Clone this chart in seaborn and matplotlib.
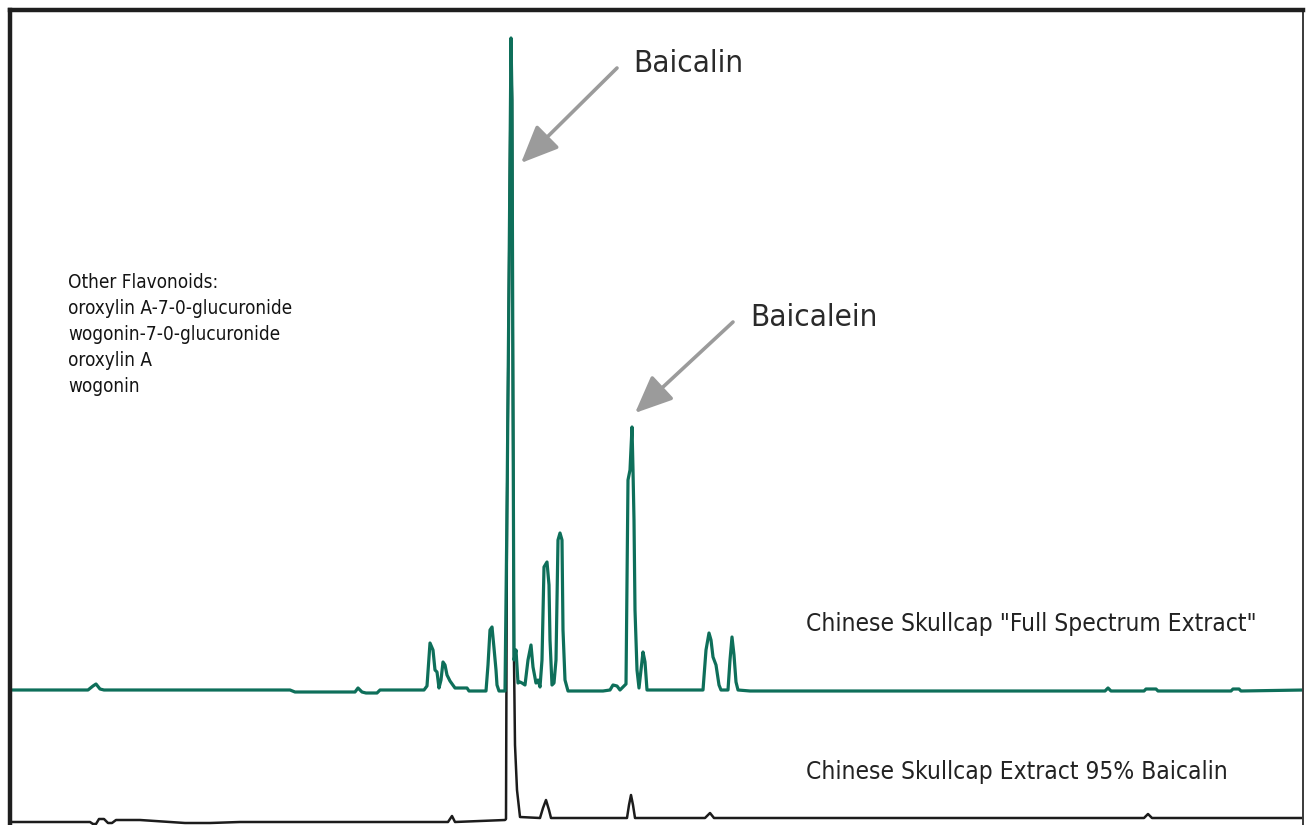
import matplotlib
matplotlib.use("Agg")
import matplotlib.pyplot as plt
import seaborn as sns
import pandas as pd

# ---- data (retention position, detector response above each trace's baseline) ----
full_time = [12, 88, 93, 96, 100, 104, 290, 295, 355, 358, 362, 366, 377, 380, 424, 427, 430, 433, 435,
             437, 439, 441, 443, 445, 447, 450, 455, 467, 469, 486, 488, 490, 492, 494, 496, 497, 499,
             505, 507, 509, 511, 512, 513, 514, 516, 518, 520, 522, 525, 528, 531, 533, 536, 538, 540,
             542, 544, 547, 549, 550, 552, 554, 556, 558, 560, 562, 563, 565, 568, 603, 610, 613, 617,
             620, 626, 628, 630, 632, 633, 634, 635, 637, 639, 641, 643, 645, 647, 703, 706, 709, 711,
             713, 716, 719, 721, 728, 730, 732, 734, 736, 738, 750, 1105, 1108, 1111, 1144, 1146, 1156,
             1158, 1231, 1233, 1239, 1241, 1304]
full_resp = [0, 0, 4, 6, 1, 0, 0, -2, -2, 2, -2, -3, -3, 0, 0, 4, 47, 40, 20,
             18, 2, 10, 28, 25, 15, 9, 2, 2, -1, -1, 25, 60, 63, 42, 20, 5, -1,
             -1, 180, 410, 652, 590, 290, 30, 40, 7, 8, 7, 5, 30, 45, 23, 7, 10, 3,
             30, 123, 128, 105, 50, 5, 7, 30, 150, 157, 150, 60, 10, -1, -1, 0, 5, 4,
             0, 6, 210, 220, 263, 220, 170, 80, 20, 2, 20, 38, 28, 0, 0, 40, 57, 50,
             33, 25, 5, 0, 0, 30, 53, 35, 8, 0, -1, -1, 2, -1, -1, 1, 1,
             -1, -1, 1, 1, -1, 0]

pure_time = [12, 90, 93, 96, 99, 104, 108, 112, 116, 140, 185, 210, 240, 448, 452, 455, 505, 506, 507,
             509, 511, 512, 513, 514, 515, 517, 520, 540, 543, 546, 549, 551, 627, 629, 631, 633, 635,
             705, 710, 714, 1144, 1148, 1152, 1304]
pure_resp = [-2, -2, -4, -4, 1, 1, -3, -3, 0, 0, -3, -3, -2, -2, 4, -2, 0, 1, 310,
             540, 780, 720, 420, 160, 75, 30, 3, 2, 12, 20, 10, 2, 2, 15, 25, 15, 2,
             2, 7, 2, 2, 6, 2, 2]

full_offset = 135
pure_offset = 5

trace_labels = ['Chinese Skullcap "Full Spectrum Extract"', 'Chinese Skullcap Extract 95% Baicalin']
peak_names = ["Baicalin", "Baicalein"]
other_flavonoids = ["Other Flavonoids:", "oroxylin A-7-0-glucuronide", "wogonin-7-0-glucuronide",
                    "oroxylin A", "wogonin"]

GREEN = "#0e6f5a"
BLACK = "#1c1c1c"
GRAY = "#9b9b9b"

sns.set_theme(style="white")
plt.rcParams["font.family"] = ["DejaVu Sans"]

fig = plt.figure(figsize=(13.06, 8.25), dpi=100)
W, H = 1306, 825
ax = fig.add_axes([9.5 / W, 0, (1303 - 9.5) / W, (H - 9.5) / H])

df_full = pd.DataFrame({"t": full_time, "signal": [r + full_offset for r in full_resp]})
df_pure = pd.DataFrame({"t": pure_time, "signal": [r + pure_offset for r in pure_resp]})

sns.lineplot(data=df_pure, x="t", y="signal", sort=False, estimator=None, color=BLACK, lw=1.8, ax=ax)
sns.lineplot(data=df_full, x="t", y="signal", sort=False, estimator=None, color=GREEN, lw=2.3, ax=ax)

ax.set_xlim(9.5, 1303)
ax.set_ylim(0, H - 9.5)
ax.set_xlabel("")
ax.set_ylabel("")
ax.set_xticks([])
ax.set_yticks([])
for side in ["top", "left"]:
    ax.spines[side].set_linewidth(3.2)
    ax.spines[side].set_color("#1e1e1e")
ax.spines["right"].set_linewidth(1.4)
ax.spines["right"].set_color("#3a3a3a")
ax.spines["bottom"].set_visible(False)

# peak annotations: arrows (tail -> head) and labels
arrow_specs = [((617, 757), (521, 662)), ((733, 503), (635, 412))]
label_pos = [(633, 762), (750, 507)]
for (tail, head), name, pos in zip(arrow_specs, peak_names, label_pos):
    ax.annotate("", xy=head, xytext=tail, textcoords="data",
                arrowprops=dict(arrowstyle="-|>,head_length=1.15,head_width=0.5",
                                color=GRAY, lw=2.6, shrinkA=0, shrinkB=0,
                                mutation_scale=20))
    ax.text(pos[0], pos[1], name, fontsize=22.5, fontstretch="condensed",
            color="#2a2a2a", va="center", ha="left")

ax.text(806, 201, trace_labels[0], fontsize=17.6, fontstretch="condensed", color="#222222",
        va="center", ha="left")
ax.text(806, 53, trace_labels[1], fontsize=17.6, fontstretch="condensed", color="#222222",
        va="center", ha="left")

for i, line in enumerate(other_flavonoids):
    ax.text(68, 543 - 26 * i, line, fontsize=13.6, fontstretch="condensed", color="#141414",
            va="center", ha="left")

fig.savefig("out.png", dpi=100)
